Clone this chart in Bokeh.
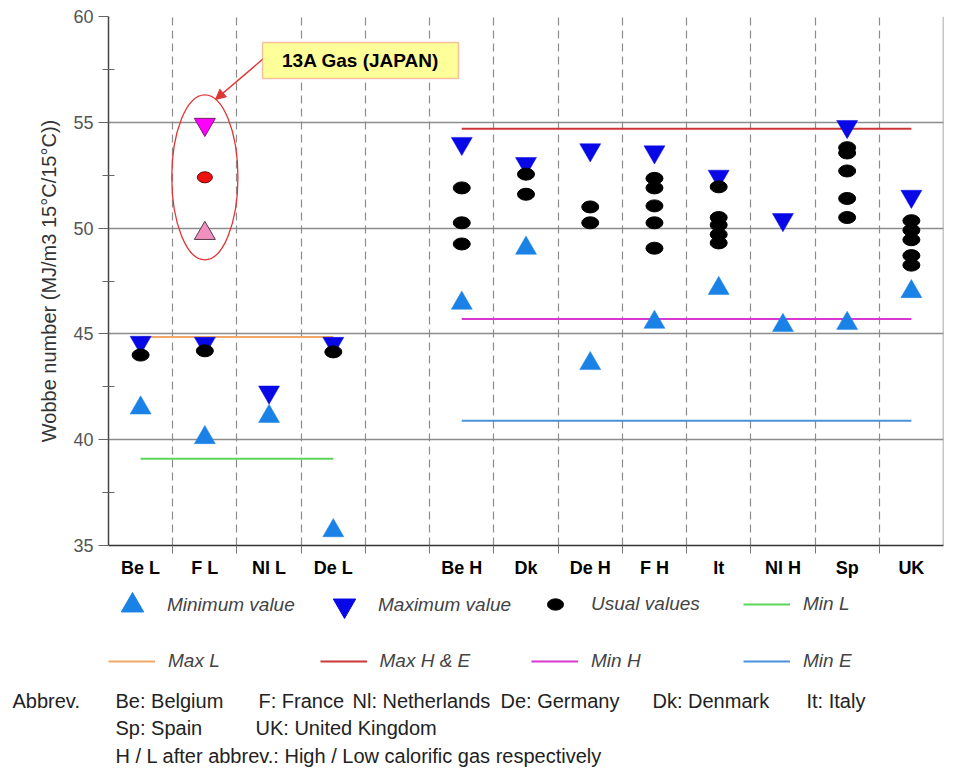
from bokeh.plotting import figure
from bokeh.layouts import column
from bokeh.models import (Range1d, FixedTicker, Legend, LegendItem, Label,
                          BoxAnnotation, Arrow, NormalHead, Span)
from bokeh.embed import file_html
from bokeh.resources import INLINE

# ---------------- data ----------------
categories = ["Be L", "F L", "Nl L", "De L", "", "Be H", "Dk", "De H",
              "F H", "It", "Nl H", "Sp", "UK"]
countries = ["Be L", "F L", "Nl L", "De L", "Be H", "Dk", "De H", "F H",
             "It", "Nl H", "Sp", "UK"]
min_value = [41.5, 40.1, 41.1, 35.7, 46.45, 49.05, 43.6, 45.55, 47.15, 45.4, 45.5, 47.0]
max_value = [44.6, 44.55, 42.25, 44.55, 54.0, 53.05, 53.7, 53.6, 52.45, 50.4, 54.8, 51.5]

usual_country = ["Be L", "F L", "De L",
                 "Be H", "Be H", "Be H",
                 "Dk", "Dk",
                 "De H", "De H",
                 "F H", "F H", "F H", "F H", "F H",
                 "It", "It", "It", "It", "It",
                 "Sp", "Sp", "Sp", "Sp", "Sp",
                 "UK", "UK", "UK", "UK", "UK"]
usual_value = [44.0, 44.2, 44.15,
               51.9, 50.25, 49.25,
               52.55, 51.6,
               51.0, 50.25,
               52.35, 51.9, 51.05, 50.25, 49.05,
               51.95, 50.5, 50.15, 49.7, 49.3,
               53.8, 53.55, 52.7, 51.4, 50.5,
               50.35, 49.9, 49.45, 48.7, 48.25]

limit_names = ["Min L", "Max L", "Max H & E", "Min H", "Min E"]
limit_values = [39.1, 44.85, 54.7, 45.7, 40.9]
limit_from = ["Be L", "Be L", "Be H", "Be H", "Be H"]
limit_to = ["De L", "De L", "UK", "UK", "UK"]

japan_country = "F L"
japan_min = 49.75
japan_usual = 52.4
japan_max = 54.9
japan_label = "13A Gas (JAPAN)"

series_labels = ["Minimum value", "Maximum value", "Usual values"]

y_ticks = [35, 40, 45, 50, 55, 60]
y_minor = [37.5, 42.5, 47.5, 52.5, 57.5]
y_label = "Wobbe number (MJ/m3 15°C/15°C))"

abbrev_lines = [
    ["Abbrev.", "Be: Belgium", "F: France", "Nl: Netherlands", "De: Germany",
     "Dk: Denmark", "It: Italy"],
    ["Sp: Spain", "UK: United Kingdom"],
    ["H / L after abbrev.: High / Low calorific gas respectively"],
]

# ---------------- style / layout ----------------
FONT = "Liberation Sans"
limit_colors = ["#5ad65a", "#f0a868", "#cc3838", "#d838d0", "#4a92dc"]
MIN_C = "#1a82e6"
MAX_C = "#0808e6"
NAN = float("nan")

W, HT = 967, 769
LEFT, TOP, FW, FH = 108, 16, 835, 529
H1 = 590                      # main figure height
H2 = HT - H1                  # notes figure height
pos = {c: i for i, c in enumerate(categories)}
SLOT = FW / len(categories)
YPX = FH / 25.0


def dx(px):   # page px -> data x of main plot
    return (px - LEFT) / SLOT - 0.5


def dy(py):   # page px -> data y of main plot
    return 60 - (py - TOP) / YPX


p = figure(width=W, height=H1, x_range=Range1d(-0.5, len(categories) - 0.5),
           y_range=Range1d(35, 60), output_backend="svg", toolbar_location=None,
           min_border_left=LEFT, min_border_right=W - LEFT - FW,
           min_border_top=TOP, min_border_bottom=H1 - TOP - FH)
p.frame_align = False
p.outline_line_color = None

# grids
p.xgrid.ticker = FixedTicker(ticks=[i + 0.5 for i in range(len(categories) - 1)])
p.xgrid.grid_line_color = "#8c8c8c"
p.xgrid.grid_line_dash = "8 5"
p.xgrid.grid_line_width = 1.2
p.ygrid.ticker = FixedTicker(ticks=y_ticks[1:-1])
p.ygrid.grid_line_color = "#8c8c8c"
p.ygrid.grid_line_width = 1.5
p.add_layout(Span(location=len(categories) - 0.5, dimension="height",
                  line_color="#8c8c8c", line_width=1.5))

# y axis
p.yaxis.ticker = FixedTicker(ticks=y_ticks, minor_ticks=y_minor)
p.yaxis.axis_label = y_label
p.yaxis.axis_label_text_font = FONT
p.yaxis.axis_label_text_font_size = "20px"
p.yaxis.axis_label_text_font_style = "normal"
p.yaxis.axis_label_text_color = "#333333"
p.yaxis.axis_label_standoff = 10
p.yaxis.major_label_text_font = FONT
p.yaxis.major_label_text_font_size = "18px"
p.yaxis.major_label_text_color = "#555555"
p.yaxis.major_tick_out = 10
p.yaxis.major_tick_in = 0
p.yaxis.minor_tick_out = 6
p.yaxis.minor_tick_in = 6
p.yaxis.major_label_standoff = 5
p.yaxis.axis_line_color = "#444444"
p.yaxis.axis_line_width = 1.5
p.yaxis.major_tick_line_color = "#666666"
p.yaxis.minor_tick_line_color = "#666666"

# x axis
p.xaxis.ticker = FixedTicker(ticks=list(range(len(categories))),
                             minor_ticks=[i + 0.5 for i in range(len(categories) - 1)])
p.xaxis.major_label_overrides = {i: c for i, c in enumerate(categories)}
p.xaxis.major_tick_line_color = None
p.xaxis.major_tick_out = 8
p.xaxis.major_tick_in = 0
p.xaxis.minor_tick_out = 8
p.xaxis.minor_tick_in = 0
p.xaxis.minor_tick_line_color = "#777777"
p.xaxis.axis_line_color = "#333333"
p.xaxis.axis_line_width = 1.5
p.xaxis.major_label_text_font = FONT
p.xaxis.major_label_text_font_size = "18px"
p.xaxis.major_label_text_font_style = "bold"
p.xaxis.major_label_text_color = "black"
p.xaxis.major_label_standoff = 4

# limit lines
for v, a, b, col in zip(limit_values, limit_from, limit_to, limit_colors):
    p.line(x=[pos[a], pos[b]], y=[v, v], line_color=col, line_width=2)

# data points
p.scatter(x=[pos[c] for c in countries], y=max_value, marker="inverted_triangle",
          size=21, fill_color=MAX_C, line_color=MAX_C, line_width=0.5)
p.scatter(x=[pos[c] for c in countries], y=min_value, marker="triangle",
          size=21, fill_color=MIN_C, line_color=MIN_C, line_width=0.5)
p.ellipse(x=[pos[c] for c in usual_country], y=usual_value, width=17, height=12,
          width_units="screen", height_units="screen",
          fill_color="black", line_color="black")

# Japan 13A
jx = pos[japan_country]
p.scatter(x=[jx], y=[japan_max], marker="inverted_triangle", size=21,
          fill_color="#ff00ff", line_color="#7a1a6a", line_width=1)
p.scatter(x=[jx], y=[japan_min], marker="triangle", size=21,
          fill_color="#f090c0", line_color="#5a3a4a", line_width=1)
p.ellipse(x=[jx], y=[japan_usual], width=15, height=11, width_units="screen",
          height_units="screen", fill_color="#ee1111", line_color="#660000", line_width=1)
p.ellipse(x=[jx], y=[japan_usual], width=1.03, height=7.8,
          fill_color=None, line_color="#e03535", line_width=1.3)

p.add_layout(BoxAnnotation(left=dx(262), right=dx(458), top=dy(42), bottom=dy(78),
                           fill_color="#ffff99", fill_alpha=1.0,
                           line_color="#e03535", line_width=1.5, level="overlay"))
p.add_layout(Label(x=(dx(262) + dx(458)) / 2, y=(dy(42) + dy(78)) / 2, text=japan_label,
                   text_align="center", text_baseline="middle", text_font=FONT,
                   text_font_size="19px", text_font_style="bold", text_color="black",
                   level="overlay"))
p.add_layout(Arrow(end=NormalHead(size=10, fill_color="#e03535", line_color="#e03535"),
                   x_start=dx(263), y_start=dy(58), x_end=dx(215), y_end=dy(99),
                   line_color="#e03535", line_width=1.5))

# ---------------- notes figure (legend + abbreviations) ----------------
# data coordinates of this figure = page pixels
p2 = figure(width=W, height=H2, x_range=Range1d(0, W), y_range=Range1d(HT, H1),
            output_backend="svg", toolbar_location=None,
            x_axis_location=None, y_axis_location=None,
            min_border_left=0, min_border_right=0, min_border_top=0, min_border_bottom=0)
p2.frame_align = False
p2.outline_line_color = None
p2.xgrid.visible = False
p2.ygrid.visible = False

# legend key glyphs (no data points of their own)
k_min = p2.scatter(x=[NAN], y=[NAN], marker="triangle", fill_color=MIN_C, line_color=MIN_C)
k_max = p2.scatter(x=[NAN], y=[NAN], marker="inverted_triangle", fill_color=MAX_C, line_color=MAX_C)
k_usual = p2.ellipse(x=[NAN], y=[NAN], width=17, height=12, width_units="screen",
                     height_units="screen", fill_color="black", line_color="black")
k_lim = [p2.line(x=[NAN, NAN], y=[NAN, NAN], line_color=c, line_width=2) for c in limit_colors]


def add_legend(label, renderer, cx, cy, gw, gh, standoff):
    fx = cx - gw / 2
    fy = (HT - cy) - gh / 2
    lg = Legend(items=[LegendItem(label=label, renderers=[renderer])],
                location=(fx, fy), glyph_width=gw, glyph_height=gh, label_height=gh,
                label_standoff=standoff, padding=0, margin=0, spacing=0,
                border_line_color=None, background_fill_alpha=0,
                label_text_font=FONT, label_text_font_size="19px",
                label_text_font_style="italic", label_text_color="#444444")
    p2.add_layout(lg)


add_legend(series_labels[0], k_min, 132, 605, 56, 56, 7)
add_legend(series_labels[1], k_max, 344, 605, 56, 56, 6)
add_legend(series_labels[2], k_usual, 555, 605, 20, 20, 26)
add_legend(limit_names[0], k_lim[0], 766.5, 605, 47, 20, 13)
add_legend(limit_names[1], k_lim[1], 131.5, 662, 47, 20, 13)
add_legend(limit_names[2], k_lim[2], 343, 662, 47, 20, 13)
add_legend(limit_names[3], k_lim[3], 554.5, 662, 47, 20, 13)
add_legend(limit_names[4], k_lim[4], 766.5, 662, 47, 20, 13)

abbrev_x = [[12, 115, 258, 352, 500, 652, 806], [115, 255], [115]]
abbrev_y = [700, 727, 755]
for texts, xs, yy in zip(abbrev_lines, abbrev_x, abbrev_y):
    for t, xx in zip(texts, xs):
        p2.add_layout(Label(x=xx, y=yy, text=t, text_align="left",
                            text_baseline="middle", text_font=FONT,
                            text_font_size="20px", text_color="#222222"))

layout = column(p, p2, spacing=0)
open("out.html", "w").write(file_html(layout, INLINE))
